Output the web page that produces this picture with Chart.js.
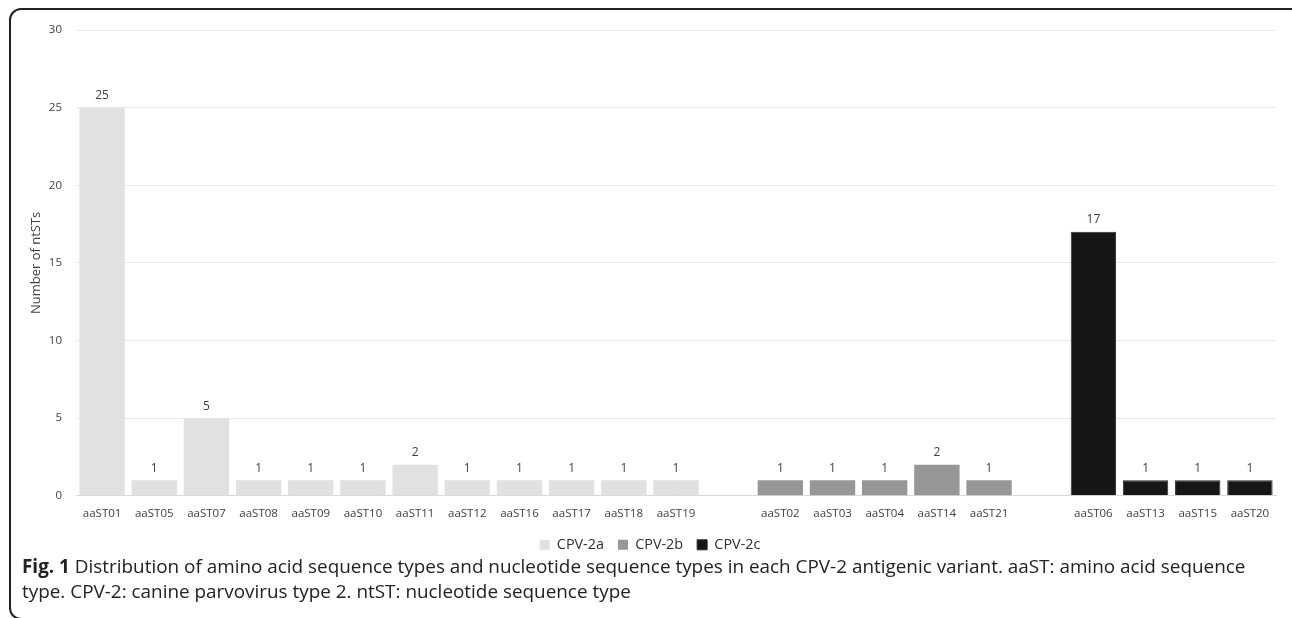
<!DOCTYPE html>
<html>
<head>
<meta charset="utf-8">
<script src="https://cdn.jsdelivr.net/npm/chart.js@4"></script>
<style>
  body { margin: 0; background: #fff; width: 1292px; height: 618px; overflow: hidden; position: relative; }
  #frame { position: absolute; left: 9px; top: 8px; width: 1300px; height: 608px; border: 2px solid #222; border-radius: 12px; }
  #wrap { position: absolute; left: 0; top: 0; width: 1292px; height: 562px; }
  #caption { position: absolute; left: 22px; top: 554px; font-family: "Open Sans", sans-serif; font-size: 18.9px; line-height: 25px; color: #222; white-space: nowrap; }
  #caption b { font-weight: bold; }
</style>
</head>
<body>
<div id="frame"></div>
<div id="wrap"><canvas id="chart"></canvas></div>
<div id="caption"><b>Fig. 1</b> Distribution of amino acid sequence types and nucleotide sequence types in each CPV-2 antigenic variant. aaST: amino acid sequence<br>type. CPV-2: canine parvovirus type 2. ntST: nucleotide sequence type</div>
<script>
// categories (empty strings are the gaps between variant groups)
const categories = ["aaST01", "aaST05", "aaST07", "aaST08", "aaST09", "aaST10", "aaST11", "aaST12", "aaST16", "aaST17", "aaST18", "aaST19", "",
  "aaST02", "aaST03", "aaST04", "aaST14", "aaST21", "",
  "aaST06", "aaST13", "aaST15", "aaST20"];
const cpv2a = [25, 1, 5, 1, 1, 1, 2, 1, 1, 1, 1, 1, null, null, null, null, null, null, null, null, null, null, null];
const cpv2b = [null, null, null, null, null, null, null, null, null, null, null, null, null, 1, 1, 1, 2, 1, null, null, null, null, null];
const cpv2c = [null, null, null, null, null, null, null, null, null, null, null, null, null, null, null, null, null, null, null, 17, 1, 1, 1];
const yTicks = [0, 5, 10, 15, 20, 25, 30];

const fontFam = "'Open Sans', sans-serif";

// value labels above bars
const valueLabels = {
  id: "valueLabels",
  afterDatasetsDraw: function (chart) {
    const ctx = chart.ctx;
    ctx.save();
    ctx.font = "12px " + fontFam;
    ctx.fillStyle = "#404040";
    ctx.textAlign = "center";
    ctx.textBaseline = "bottom";
    chart.data.datasets.forEach(function (ds, i) {
      chart.getDatasetMeta(i).data.forEach(function (bar, j) {
        if (ds.data[j] == null) return;
        ctx.fillText(ds.data[j], bar.x, bar.y - 6);
      });
    });
    ctx.restore();
  }
};

new Chart(document.getElementById("chart"), {
  type: "bar",
  data: {
    labels: categories,
    datasets: [
      { label: "CPV-2a", data: cpv2a, backgroundColor: "#e1e1e1" },
      { label: "CPV-2b", data: cpv2b, backgroundColor: "#979797" },
      { label: "CPV-2c", data: cpv2c, backgroundColor: "#161616", borderColor: "#2a2a2a", borderWidth: 1 }
    ]
  },
  options: {
    responsive: true,
    maintainAspectRatio: false,
    animation: false,
    layout: { padding: { left: 24, right: 16, top: 30, bottom: 0 } },
    datasets: { bar: { barPercentage: 0.87, categoryPercentage: 1 } },
    scales: {
      x: {
        stacked: true,
        grid: { display: false },
        border: { color: "#d9d9d9" },
        ticks: { font: { family: fontFam, size: 11.5 }, color: "#404040", maxRotation: 0, autoSkip: false }
      },
      y: {
        stacked: true,
        min: 0,
        max: 30,
        afterBuildTicks: function (scale) { scale.ticks = yTicks.map(function (v) { return { value: v }; }); },
        afterFit: function (scale) { scale.width = 52; },
        grid: { color: "#e8e8e8", drawTicks: false },
        border: { display: false },
        ticks: { font: { family: fontFam, size: 11.5 }, color: "#404040", padding: 14 },
        title: { display: true, text: "Number of ntSTs", font: { family: fontFam, size: 13 }, color: "#404040", padding: 4 }
      }
    },
    plugins: {
      legend: {
        position: "bottom",
        labels: { boxWidth: 10, boxHeight: 10, font: { family: fontFam, size: 14.4 }, color: "#303030", padding: 14 }
      },
      tooltip: { enabled: false }
    }
  },
  plugins: [valueLabels]
});
</script>
</body>
</html>
